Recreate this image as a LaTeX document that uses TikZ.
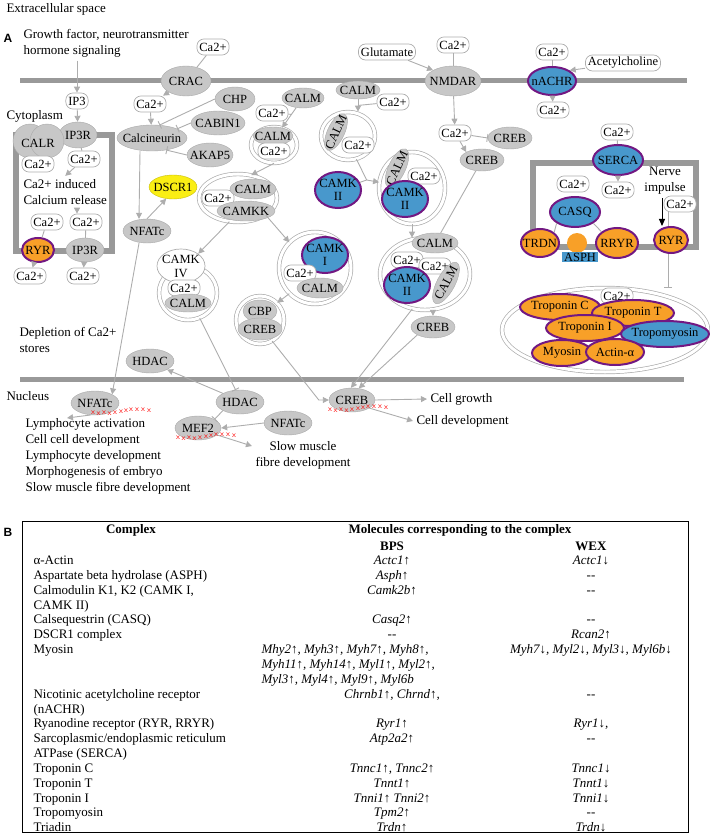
\documentclass[tikz,border=0pt]{standalone}
\usepackage{fontspec}
\setmainfont{Liberation Serif}
\newfontfamily\panelfont{Liberation Sans}
\usepackage{tikz}
\usetikzlibrary{calc}
\usetikzlibrary{shapes.geometric, arrows.meta}
\definecolor{molgray}{gray}{0.78}
\definecolor{linegray}{gray}{0.68}
\definecolor{membgray}{gray}{0.6}
\definecolor{hitblue}{RGB}{72,152,204}
\definecolor{hitorange}{RGB}{248,160,40}
\definecolor{hitpurple}{RGB}{114,24,130}
\definecolor{dscr}{RGB}{250,238,20}

\begin{document}
\begin{tikzpicture}[x=1pt, y=-1pt,
every node/.style={font=\fontsize{13}{16}\selectfont},
mol/.style={ellipse, fill=molgray, draw=molgray!85!black, line width=0.4pt, inner sep=-12pt, align=center, font=\fontsize{12.5}{12.5}\selectfont},
ion/.style={rectangle, rounded corners=7pt, draw=linegray, fill=white, line width=0.7pt, inner xsep=2.5pt, inner ysep=1pt, minimum height=16pt, font=\fontsize{12.5}{13}\selectfont},
hitb/.style={mol, fill=hitblue, draw=hitpurple, line width=2pt},
hito/.style={mol, fill=hitorange, draw=hitpurple, line width=2pt},
cplx/.style={ellipse, draw=linegray, double=white, double distance=3pt, line width=0.7pt},
act/.style={draw=linegray, line width=0.9pt, -{Triangle[width=6pt,length=6pt]}},
inh/.style={draw=linegray, line width=0.9pt, -{Bar[width=8pt]}},
lnk/.style={draw=linegray, line width=0.9pt},
membrane/.style={draw=membgray, line width=5pt},
erbox/.style={draw=membgray, line width=6pt},
redx/.style={text=red, inner sep=0pt, font=\fontsize{8}{8}\sffamily},
row/.style={font=\fontsize{13}{15}\selectfont}
]
\useasboundingbox (0,0) rectangle (709,834);

% membranes and stores
\draw[membrane] (20,81) -- (687,81);
\draw[membrane] (20,379) -- (684,379);
\draw[erbox] (16,135) rectangle (112,251);
\draw[erbox] (533,163) rectangle (696,247);

\node[anchor=west] (extra) at (3,9){Extracellular space};
\node[font=\fontsize{12}{12}\panelfont\bfseries] (pA) at (8,38){A};
\node[anchor=west, align=left] (growth) at (20,43){Growth factor, neurotransmitter\\hormone signaling};
\node[anchor=west] (cyto) at (3,116){Cytoplasm};
\node[anchor=west, align=left] (deplete) at (16,340){Depletion of Ca2+\\stores};
\node[anchor=west] (nucl) at (3,396){Nucleus};

% calcium store on the left
\node[ion] (ip3) at (77,101){IP3};
\node[mol, minimum width=38, minimum height=26] (ip3r) at (78,135){IP3R};
\node[mol, circle, minimum size=19] (calra) at (30,141){};
\node[mol, circle, minimum size=19] (calrb) at (47,141){};
\node[font=\fontsize{12.5}{12.5}\selectfont] (calr) at (38,143){CALR};
\node[ion] (ca1) at (38,164){Ca2+};
\node[ion] (ca2) at (84,159){Ca2+};
\node[anchor=west, align=left] (carel) at (20,192){Ca2+ induced\\Calcium release};
\node[ion] (ca3) at (47,222){Ca2+};
\node[ion] (ca4) at (86,222){Ca2+};
\node[hito, minimum width=32, minimum height=24] (ryra) at (38,250){RYR};
\node[mol, minimum width=38, minimum height=24] (ip3rb) at (85,250){IP3R};
\node[ion] (ca5) at (30,276){Ca2+};
\node[ion] (ca6) at (83,276){Ca2+};
\draw[act] (growth.south -| ip3) -- (ip3);
\draw[act] (ip3) -- (ip3r);
\draw[lnk] (ip3r) -- (ca2);
\draw[act] (ca2) -- (carel.north);
\draw[act] (carel.south -| ip3) -- (ca4.north -| ip3);
\draw[lnk] (ca3) -- (ryra);
\draw[lnk] (ca4) -- (ip3rb);
\draw[act] (ryra) -- (ca5);
\draw[act] (ip3rb) -- (ca6);

% calcineurin
\node[mol, minimum width=50, minimum height=30] (crac) at (186,81){CRAC};
\node[ion] (ca7) at (213,47){Ca2+};
\node[ion] (ca8) at (150,104){Ca2+};
\node[mol, minimum width=70, minimum height=26] (calcin) at (152,138){Calcineurin};
\node[mol, minimum width=40, minimum height=24] (chp) at (235,99){CHP};
\node[mol, minimum width=54, minimum height=24] (cabin) at (218,123){CABIN1};
\node[mol, minimum width=46, minimum height=24] (akap) at (210,155){AKAP5};
\node[mol, fill=dscr, draw=dscr!80!black, minimum width=48, minimum height=24] (dscr1) at (173,187){DSCR1};
\node[mol, minimum width=48, minimum height=24] (nfata) at (147,231){NFATc};
\draw[lnk] (ca7) -- (crac);
\draw[act] (crac) -- (ca8);
\draw[act] (ca8) -- (calcin);
\draw[inh] (chp.west) -- (calcin.60);
\draw[inh] (cabin.west) -- (calcin.20);
\draw[inh] (akap.west) -- (calcin.-40);
\draw[act] ([xshift=-12pt]calcin.south) -- ([xshift=-8pt]nfata.north);
\draw[act] (nfata.north) -- (dscr1.240);

% calmodulin complexes
\node[cplx, minimum width=46, minimum height=36] (cxa) at (274,145){};
\node[mol, minimum width=42, minimum height=20] (calma) at (303,98){CALM};
\node[ion] (ca9) at (272,113){Ca2+};
\node[mol, minimum width=40, minimum height=18] (calmb) at (273,136){CALM};
\node[ion] (ca10) at (274,151){Ca2+};
\draw[act] (calma) -- (cxa.65);
\coordinate (ja) at ($(calma)!0.55!(cxa.65)$);
\draw[lnk] (ca9) -- (ja);

\node[cplx, minimum width=78, minimum height=48] (cxb) at (238,198){};
\node[ion] (ca11) at (218,198){Ca2+};
\node[mol, minimum width=46, minimum height=20] (calmc) at (253,189){CALM};
\node[mol, minimum width=58, minimum height=20] (camkk) at (246,211){CAMKK};
\draw[act] (cxa.south) -- (cxb.60);

\node[cplx, minimum width=58, minimum height=54] (cxc) at (188,293){};
\node[ellipse, draw=linegray, fill=white, line width=0.7pt, inner sep=-12pt, minimum width=48, minimum height=34, align=center, font=\fontsize{12.5}{14}\selectfont] (camkiv) at (181,266){CAMK\\IV};
\node[ion] (ca12) at (184,288){Ca2+};
\node[mol, minimum width=46, minimum height=18] (calmd) at (188,303){CALM};
\draw[act] (cxb.250) -- (camkiv.north east);

\node[cplx, minimum width=72, minimum height=72] (cxd) at (315,268){};
\node[hitb, minimum width=46, minimum height=36] (camki) at (325,255){CAMK\\I};
\node[ion] (ca13) at (300,273){Ca2+};
\node[mol, minimum width=46, minimum height=20] (calme) at (320,288){CALM};
\draw[act] (cxb.south east) -- (cxd.north west);

\node[cplx, minimum width=48, minimum height=48] (cxe) at (260,320){};
\node[mol, minimum width=34, minimum height=22] (cbp) at (260,311){CBP};
\node[mol, minimum width=44, minimum height=22] (creba) at (260,329){CREB};
\draw[act] (cxd.south west) -- (cxe.north east);

\node[hitb, minimum width=46, minimum height=36] (camkiia) at (338,190){CAMK\\II};
\node[cplx, minimum width=54, minimum height=48] (cxf) at (348,136){};
\node[mol, minimum width=44, minimum height=18] (calmf) at (358,90){CALM};
\node[ion] (ca14) at (393,102){Ca2+};
\node[mol, rotate=65, minimum width=40, minimum height=17] (calmg) at (336,132){CALM};
\node[ion] (ca15) at (358,145){Ca2+};
\draw[act] (calmf) -- (calmf |- cxf.north);
\coordinate (jb) at ($(calmf.south)!0.5!(calmf |- cxf.north)$);
\draw[lnk] (ca14) -- (jb);

\node[cplx, minimum width=66, minimum height=72] (cxg) at (412,188){};
\node[mol, rotate=65, minimum width=42, minimum height=17] (calmh) at (397,168){CALM};
\node[ion] (ca16) at (424,176){Ca2+};
\node[hitb, minimum width=46, minimum height=36] (camkiib) at (405,199){CAMK\\II};
\coordinate (jc) at ($(cxg.west)+(-12,-8)$);
\draw[lnk] (cxf.-70) -- (jc);
\draw[lnk] (camkiia) -- (jc);
\draw[act] (jc) -- (cxg.170);

\node[cplx, minimum width=90, minimum height=72] (cxh) at (425,274){};
\node[mol, minimum width=46, minimum height=20] (calmi) at (435,243){CALM};
\node[ion] (ca17) at (407,260){Ca2+};
\node[ion] (ca18) at (435,266){Ca2+};
\node[hitb, minimum width=46, minimum height=36] (camkiic) at (407,285){CAMK\\II};
\node[mol, rotate=62, minimum width=46, minimum height=18] (calmj) at (446,283){CALM};
\draw[act] (cxg.south) -- (cxg.south |- cxh.north);
\node[mol, minimum width=44, minimum height=22] (crebb) at (433,327){CREB};
\draw[act] (cxh.south -| crebb) -- (crebb);

% NMDAR and nACHR
\node[mol, minimum width=56, minimum height=30] (nmdar) at (453,81){NMDAR};
\node[ion] (glu) at (387,52){Glutamate};
\node[ion] (ca19) at (453,45){Ca2+};
\node[ion] (ca20) at (455,133){Ca2+};
\node[mol, minimum width=44, minimum height=22] (crebc) at (482,160){CREB};
\node[mol, minimum width=44, minimum height=22] (crebd) at (510,138){CREB};
\draw[act] (glu) -- (nmdar.north west);
\draw[lnk] (ca19) -- (nmdar);
\draw[act] (nmdar) -- (ca20);
\draw[act] (ca20) -- (crebc.north west);
\draw[inh] (ca20) -- (crebd.west);
\draw[lnk] (crebc) -- (calmi);

\node[hitb, minimum width=48, minimum height=28] (nachr) at (552,81){nACHR};
\node[ion] (ca21) at (552,52){Ca2+};
\node[ion] (ca22) at (553,110){Ca2+};
\node[ion] (ach) at (623,63){Acetylcholine};
\draw[lnk] (ca21) -- (nachr);
\draw[act] (ach) -- (nachr.north east);
\draw[act] (nachr) -- (ca22);

% sarcoplasmic reticulum
\node[hitb, minimum width=50, minimum height=30] (serca) at (618,160){SERCA};
\node[ion] (ca23) at (617,132){Ca2+};
\node[ion] (ca24) at (618,190){Ca2+};
\node[ion] (ca25) at (573,184){Ca2+};
\node[align=center] (nerve) at (665,181){Nerve\\impulse};
\draw[lnk] (ca23) -- (serca);
\draw[act] (serca) -- (ca24);
\node[hitb, minimum width=50, minimum height=30] (casq) at (575,212){CASQ};
\node[hito, minimum width=38, minimum height=28] (trdn) at (540,243){TRDN};
\node[circle, fill=hitorange, minimum size=20, inner sep=0pt] (asphc) at (577,243){};
\node[fill=hitblue, inner xsep=2pt, inner ysep=1pt, font=\fontsize{12.5}{13}\selectfont] (asph) at (580,257){ASPH};
\node[hito, minimum width=42, minimum height=30] (rryr) at (617,243){RRYR};
\draw[lnk] (casq.south west) -- (trdn.north east);
\draw[lnk] (casq.south east) -- (rryr.north west);

% sarcomere
\node[cplx, minimum width=206, minimum height=84] (tropcx) at (605,330){};
\node[ion] (ca26) at (680,204){Ca2+};
\draw[inh] ([xshift=-12pt]ca26.south) -- ([xshift=-12pt]ca26.south |- tropcx.north);
\node[hito, minimum width=34, minimum height=26] (ryrb) at (671,240){RYR};
\draw[black, line width=1pt, -{Triangle[width=6pt,length=7pt]}] ([xshift=-3pt]nerve.south) -- ([xshift=-9pt]ryrb.north);
\node[ion] (ca28) at (617,296){Ca2+};
\node[hito, minimum width=80, minimum height=26] (tnc) at (560,307){Troponin C};
\node[hito, minimum width=82, minimum height=26] (tnt) at (633,313){Troponin T};
\node[hito, minimum width=78, minimum height=26] (tni) at (585,328){Troponin I};
\node[hitb, minimum width=88, minimum height=26] (tpm) at (665,334){Tropomyosin};
\node[hito, minimum width=60, minimum height=26] (myo) at (562,353){Myosin};
\node[hito, minimum width=58, minimum height=26] (actn) at (615,352){Actin-α};

% nucleus
\node[mol, minimum width=48, minimum height=24] (hdaca) at (150,361){HDAC};
\node[mol, minimum width=48, minimum height=24] (nfatb) at (95,403){NFATc};
\node[mol, minimum width=48, minimum height=24] (hdacb) at (240,402){HDAC};
\node[mol, minimum width=46, minimum height=24] (mef) at (198,428){MEF2};
\node[mol, minimum width=48, minimum height=24] (nfatc) at (288,423){NFATc};
\node[mol, minimum width=46, minimum height=24] (crebe) at (352,400){CREB};
\node[anchor=north west, align=left] (lymph) at (22,415){Lymphocyte activation\\Cell cell development\\Lymphocyte development\\Morphogenesis of embryo\\Slow muscle fibre development};
\node[align=center] (slowm) at (303,455){Slow muscle\\fibre development};
\node[anchor=west] (cgrow) at (427,399){Cell growth};
\node[anchor=west] (cdev) at (413,421){Cell development};
\coordinate (lymtip) at ($(lymph.north west)+(45,3)$);

\draw[act] ([xshift=-8pt]nfata.south) -- (nfatb.north east);
\draw[act] (hdacb.north west) -- (hdaca.south east);
\draw[inh] (cxc.-65) -- (hdacb.110);
\draw[act] (cxe.-60) -- ([xshift=-10pt]crebe.west) -- (crebe.west);
\draw[act] (crebb.south west) -- (crebe.60);
\draw[act] (cxh.250) -- (crebe.95);
\draw[inh] (hdacb.south west) -- (mef.north east);
\draw[act] (nfatc.west) -- (mef.east);
\draw[act] (mef.-20) -- (slowm.170);
\draw[act] (nfatb.250) -- (lymtip);
\draw[act] (crebe.east) -- (cgrow.west);
\draw[act] (crebe.-25) -- (cdev.west);

\foreach \n/\s in {nfatb/-2, mef/-20, crebe/-22}{
\foreach \dx/\dy in {0/10,5.5/10.5,11/10,16.5/10.5,22/10,28/9,33/8,38/6.5,44/7,50/7,56/7.5}{
\node[redx] (x\n\dx) at ($(\n.center)+(\s+\dx,\dy)$){x};
}
}

% table B
\node[font=\fontsize{12}{12}\panelfont\bfseries] (pB) at (8,532){B};
\draw[line width=0.6pt] (22,521) rectangle (688,832);
\node[row, font=\fontsize{13}{15}\bfseries] (hcpx) at (131,530){Complex};
\node[row, font=\fontsize{13}{15}\bfseries] (hmol) at (460,530){Molecules corresponding to the complex};
\node[row, font=\fontsize{13}{15}\bfseries] (hbps) at (392,546){BPS};
\node[row, font=\fontsize{13}{15}\bfseries] (hwex) at (591,546){WEX};
\foreach \r/\c/\b/\w in {
0/α-Actin/Actc1↑/Actc1↓,
1/Aspartate beta hydrolase (ASPH)/Asph↑/-{}-,
2/{Calmodulin K1, K2 (CAMK I,}/Camk2b↑/-{}-,
3/CAMK II)//,
4/Calsequestrin (CASQ)/Casq2↑/-{}-,
5/DSCR1 complex/-{}-/Rcan2↑,
6/Myosin//{Myh7↓, Myl2↓, Myl3↓, Myl6b↓},
9/Nicotinic acetylcholine receptor/{Chrnb1↑, Chrnd↑,}/-{}-,
10/(nACHR)//,
11/{Ryanodine receptor (RYR, RRYR)}/Ryr1↑/{Ryr1↓,},
12/{Sarcoplasmic/endoplasmic reticulum}/Atp2a2↑/-{}-,
13/ATPase (SERCA)//,
14/Troponin C/{Tnnc1↑, Tnnc2↑}/Tnnc1↓,
15/Troponin T/Tnnt1↑/Tnnt1↓,
16/Troponin I/Tnni1↑ Tnni2↑/Tnni1↓,
17/Tropomyosin/Tpm2↑/-{}-,
18/Triadin/Trdn↑/Trdn↓
}{
\node[row, anchor=base west] (c\r) at (30,564.5+14.85*\r){\c};
\node[row, anchor=base, font=\fontsize{13}{15}\itshape] (b\r) at (392,564.5+14.85*\r){\b};
\node[row, anchor=base, font=\fontsize{13}{15}\itshape] (w\r) at (591,564.5+14.85*\r){\w};
}
\foreach \r/\b in {6/{Mhy2↑, Myh3↑, Myh7↑, Myh8↑,}, 7/{Myh11↑, Myh14↑, Myl1↑, Myl2↑,}, 8/{Myl3↑, Myl4↑, Myl9↑, Myl6b}}{
\node[row, anchor=base west, font=\fontsize{13}{15}\itshape] (bm\r) at (258,564.5+14.85*\r){\b};
}
\end{tikzpicture}
\end{document}
